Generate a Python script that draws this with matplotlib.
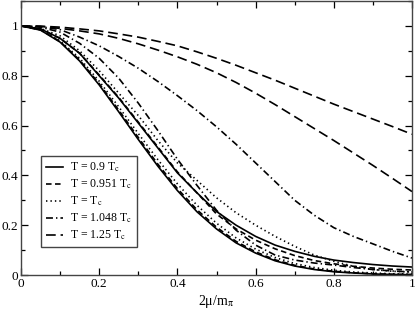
import matplotlib
matplotlib.use("Agg")
import matplotlib.pyplot as plt
from matplotlib.ticker import MultipleLocator

plt.rcParams['font.family'] = ['Liberation Serif', 'DejaVu Serif']
plt.rcParams['mathtext.fontset'] = 'stix'
plt.rcParams['lines.scale_dashes'] = False

# x grid (2mu/m_pi)
x = [0.0, 0.05, 0.1, 0.15, 0.2, 0.25, 0.3, 0.35, 0.4, 0.45, 0.5,
     0.55, 0.6, 0.65, 0.7, 0.75, 0.8, 0.85, 0.9, 0.95, 1.0]

# set A (steeper curves)
a_09 = [1.0, 0.983, 0.935, 0.859, 0.763, 0.655, 0.544, 0.437, 0.339, 0.254, 0.185,
        0.129, 0.088, 0.057, 0.036, 0.022, 0.013, 0.008, 0.004, 0.002, 0.001]
a_0951 = [1.0, 0.984, 0.937, 0.863, 0.768, 0.662, 0.552, 0.445, 0.347, 0.262, 0.192,
          0.135, 0.093, 0.061, 0.039, 0.024, 0.015, 0.009, 0.005, 0.003, 0.002]
a_tc = [1.0, 0.985, 0.940, 0.870, 0.778, 0.675, 0.568, 0.463, 0.366, 0.280, 0.208,
        0.149, 0.104, 0.070, 0.046, 0.030, 0.019, 0.012, 0.008, 0.005, 0.004]
a_1048 = [1.0, 0.995, 0.975, 0.930, 0.870, 0.790, 0.690, 0.580, 0.465, 0.360, 0.260,
          0.180, 0.120, 0.080, 0.060, 0.048, 0.040, 0.030, 0.022, 0.016, 0.012]
a_125 = [1.0, 0.998, 0.990, 0.980, 0.968, 0.950, 0.928, 0.903, 0.876, 0.846, 0.812,
         0.773, 0.730, 0.684, 0.636, 0.588, 0.540, 0.490, 0.440, 0.388, 0.335]

# set B (flatter curves)
b_09 = [1.0, 0.988, 0.950, 0.890, 0.800, 0.710, 0.610, 0.510, 0.410, 0.330, 0.255,
        0.200, 0.155, 0.120, 0.095, 0.075, 0.060, 0.050, 0.042, 0.036, 0.032]
b_0951 = [1.0, 0.988, 0.950, 0.890, 0.803, 0.713, 0.614, 0.514, 0.414, 0.330, 0.245,
          0.185, 0.140, 0.105, 0.078, 0.058, 0.045, 0.035, 0.028, 0.023, 0.020]
b_tc = [1.0, 0.990, 0.960, 0.900, 0.820, 0.730, 0.640, 0.540, 0.450, 0.380, 0.310,
        0.250, 0.200, 0.155, 0.115, 0.080, 0.055, 0.035, 0.022, 0.015, 0.012]
b_1048 = [1.0, 0.997, 0.985, 0.955, 0.920, 0.877, 0.830, 0.777, 0.720, 0.660, 0.595,
          0.525, 0.450, 0.375, 0.300, 0.240, 0.190, 0.155, 0.125, 0.095, 0.068]
b_125 = [1.0, 0.999, 0.995, 0.988, 0.980, 0.968, 0.955, 0.938, 0.920, 0.896, 0.870,
         0.842, 0.812, 0.782, 0.750, 0.718, 0.686, 0.656, 0.626, 0.596, 0.565]

labels = ['T = 0.9 T$_\\mathrm{c}$', 'T = 0.951 T$_\\mathrm{c}$', 'T = T$_\\mathrm{c}$',
          'T = 1.048 T$_\\mathrm{c}$', 'T = 1.25 T$_\\mathrm{c}$']
xticklabels = ['0', '0.2', '0.4', '0.6', '0.8', '1']
yticklabels = ['0', '0.2', '0.4', '0.6', '0.8', '1']

styles = ['-', (0, (4, 2.5)), (0, (1, 2.2)), (0, (5, 2.2, 1, 2.2)), (0, (7, 3.5))]

fig = plt.figure(figsize=(4.15, 3.09), dpi=100)
ax = fig.add_axes([21/415, 1-275/309, 391/415, 274/309])

sets_a = [a_09, a_0951, a_tc, a_1048, a_125]
sets_b = [b_09, b_0951, b_tc, b_1048, b_125]
for i, (ya, yb) in enumerate(zip(sets_a, sets_b)):
    ax.plot(x, ya, color='black', lw=1.2, linestyle=styles[i], label=labels[i])
    ax.plot(x, yb, color='black', lw=1.2, linestyle=styles[i])

ax.set_xlim(0, 1)
ax.set_ylim(0, 1.1)
ax.set_xticks([0, 0.2, 0.4, 0.6, 0.8, 1.0])
ax.set_xticklabels(xticklabels)
ax.set_yticks([0, 0.2, 0.4, 0.6, 0.8, 1.0])
ax.set_yticklabels(yticklabels)
ax.xaxis.set_minor_locator(MultipleLocator(0.1))
ax.yaxis.set_minor_locator(MultipleLocator(0.1))
ax.tick_params(which='both', direction='in', top=True, right=True, labelsize=9.5, pad=2)
ax.tick_params(which='major', length=5, width=0.9)
ax.tick_params(which='minor', length=3, width=0.9)
for s in ax.spines.values():
    s.set_linewidth(1.0)
    s.set_color('#444444')

ax.set_xlabel('2μ/m$_\\mathrm{\\pi}$', fontsize=10, labelpad=2)

leg = ax.legend(loc='lower left', bbox_to_anchor=(0.051, 0.102), borderaxespad=0,
                fancybox=False, edgecolor='#444444', fontsize=8.5, handlelength=1.5,
                handletextpad=0.6, labelspacing=0.3, borderpad=0.4, framealpha=1)
leg.get_frame().set_linewidth(1.0)

fig.savefig('out.png', dpi=100)
